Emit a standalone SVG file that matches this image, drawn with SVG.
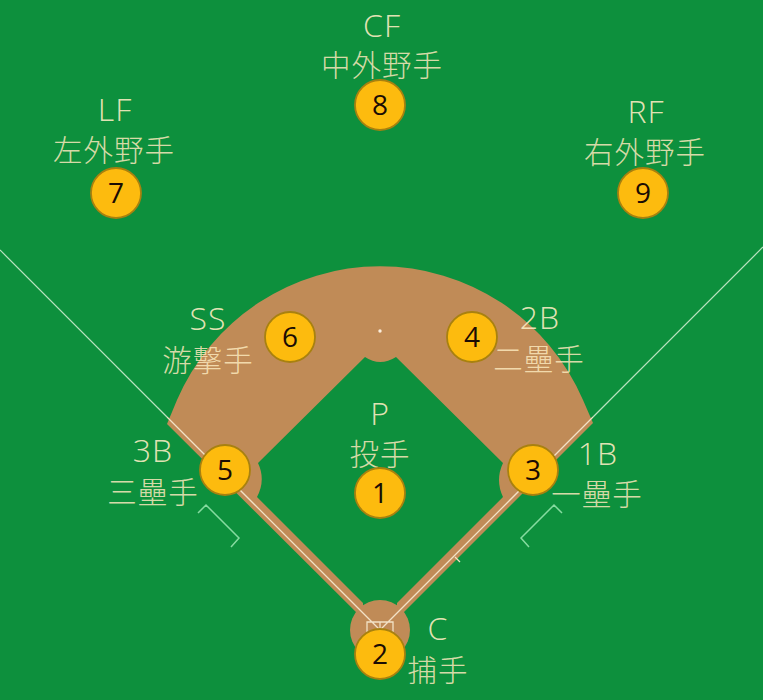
<svg xmlns="http://www.w3.org/2000/svg" width="763" height="700" viewBox="0 0 763 700">
<style>
.lat{font-family:"Open Sans","Noto Sans",sans-serif;font-size:32px;font-weight:300;letter-spacing:1px;fill:#fdeec4;fill-opacity:.9;text-anchor:middle}
.cjk{font-family:"Noto Sans CJK JP","Noto Sans",sans-serif;font-size:29.5px;font-weight:300;fill:#fbe8bc;fill-opacity:.86;text-anchor:middle;letter-spacing:1px}
.mark{fill:#fdbb0e;stroke:#a8810f;stroke-width:1.8}
.num{font-family:"Open Sans","Noto Sans",sans-serif;font-size:28px;fill:#1a0c04;text-anchor:middle}
.line{fill:none;stroke:#f2e2c6;stroke-width:1.3}
.box{fill:none;stroke:#86dba0;stroke-width:1.5}
</style>
<rect width="763" height="700" fill="#0d903d"/>
<g id="field">
<path fill="#c08b57" d="M177 400A221 221 0 0 1 583 400L593 423L397 619L397 603L503 497Q495 480 503 463L396 357Q380 367 365 357L258 463Q266 480 257 497L363 603L363 619L167 424Z"/>
<circle cx="380" cy="630" r="30" fill="#c08b57"/>
<circle cx="380" cy="331" r="1.7" fill="#fbeedd"/>
</g>
<g id="connectors">
<path class="box" d="M198 513L206 505L239 538L231 547M562 513L554 505L521 538L529 547"/>
<path d="M0 250L167 417" fill="none" stroke="#b9e2c0" stroke-width="1.2"/>
<path d="M763 247L593 417" fill="none" stroke="#b9e2c0" stroke-width="1.2"/>
<path class="line" d="M167 417L380 630L593 417M367 634V622H393V634M380 622V634M455 557L460 562"/>
</g>
<g id="cf"><text class="lat" x="382" y="37">CF</text><text class="cjk" x="382" y="76">中外野手</text><circle class="mark" cx="380" cy="105" r="25"/><text class="num" x="380" y="115">8</text></g>
<g id="lf"><text class="lat" x="115" y="121">LF</text><text class="cjk" x="114" y="161">左外野手</text><circle class="mark" cx="116" cy="193" r="25"/><text class="num" x="116" y="203">7</text></g>
<g id="rf"><text class="lat" x="646" y="123">RF</text><text class="cjk" x="645" y="163">右外野手</text><circle class="mark" cx="643" cy="193" r="25"/><text class="num" x="643" y="203">9</text></g>
<g id="ss"><text class="lat" x="208" y="330">SS</text><text class="cjk" x="208" y="371">游擊手</text><circle class="mark" cx="290" cy="337" r="25"/><text class="num" x="290" y="347">6</text></g>
<g id="b2"><text class="lat" x="540" y="329">2B</text><text class="cjk" x="539" y="370">二壘手</text><circle class="mark" cx="472" cy="337" r="25"/><text class="num" x="472" y="347">4</text></g>
<g id="p"><text class="lat" x="380" y="425">P</text><text class="cjk" x="380" y="465">投手</text><circle class="mark" cx="380" cy="493" r="25"/><text class="num" x="380" y="503">1</text></g>
<g id="b3"><text class="lat" x="153" y="462">3B</text><text class="cjk" x="153" y="503">三壘手</text><circle class="mark" cx="225" cy="470" r="25"/><text class="num" x="225" y="480">5</text></g>
<g id="b1"><text class="lat" x="598" y="465">1B</text><text class="cjk" x="597" y="505">一壘手</text><circle class="mark" cx="533" cy="470" r="25"/><text class="num" x="533" y="480">3</text></g>
<g id="c"><text class="lat" x="438" y="640">C</text><text class="cjk" x="438" y="681">捕手</text><circle class="mark" cx="380" cy="654" r="25"/><text class="num" x="380" y="664">2</text></g>
</svg>
